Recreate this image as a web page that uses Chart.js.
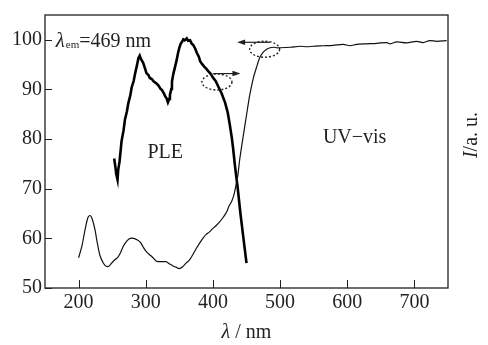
<!DOCTYPE html>
<html><head><meta charset="utf-8">
<script src="https://cdn.jsdelivr.net/npm/chart.js@4/dist/chart.umd.min.js"></script>
<style>html,body{margin:0;padding:0;background:#fff}#wrap{width:488px;height:345px}</style>
</head><body><div id="wrap"><canvas id="c" width="488" height="345"></canvas></div>
<script>
// UV-vis absorption (thin line)
const uvX = [200,205,210,214,217,220,224,228,232,237,241,245,249,254,258,262,267,272,277,282,287,292,296,300,305,310,316,322,330,335,340,345,350,355,360,365,370,375,380,385,390,395,400,405,410,415,420,424,428,431,434,437,440,445,450,455,460,465,470,475,480,485,490,495,500,515,530,540,549,564,579,594,604,614,629,644,659,664,674,688,703,713,723,733,748];
const uvY = [56.1,58.5,62,64.2,64.6,64,62,59,56.5,55,54.4,54.4,55,55.7,56.1,57,58.5,59.5,60,60,59.7,59.2,58.3,57.5,56.8,56.2,55.4,55.3,55.3,54.9,54.5,54.2,53.9,54.3,55,55.6,56.7,57.9,59,60,60.8,61.3,62,62.6,63.3,64.2,65.2,66.5,67.5,68.6,70.5,72.6,76,80.5,84.8,89,92.2,94.5,96.5,97.5,98.1,98.4,98.5,98.4,98.4,98.5,98.7,98.6,98.7,98.8,98.9,99.1,98.8,99.1,99.2,99.3,99.45,99.2,99.6,99.4,99.7,99.45,99.85,99.7,99.85];
// PLE excitation (thick noisy line)
const pleX = [253,255,256,257,258,259,261,264,267,269,272,274,277,279,282,284,287,289,291,293,296,299,301,304,306,309,312,316,319,322,324,327,329,331,333,335,336,338,339,341,343,346,348,350,352,354,356,358,361,363,366,368,371,374,376,379,381,384,387,390,393,397,400,404,408,413,418,422,425,428,430,433,437,441,445,450];
const pleY = [76.1,74.2,73,72.4,71.8,73.8,75.5,79.6,81.8,83.9,85.6,87.2,88.8,90.4,91.7,93.1,94.9,96.3,96.8,96.1,95.4,94.2,93.3,92.9,92.3,92.1,91.6,91.2,90.8,90.1,89.9,89.2,88.6,88.2,87.4,88.1,88.9,90.1,91.6,93.1,94.2,95.9,97.3,98.4,99.2,99.6,100.1,99.9,100.3,99.8,99.9,99.3,98.9,98.1,97.4,96.6,95.7,95.1,94.6,94.2,93.7,93.1,92.4,91.7,90.6,89.2,87.4,85.4,83,80.4,78.2,74.4,70,65,60.5,55];
const xTicks = [200,300,400,500,600,700];
const yTicks = [50,60,70,80,90,100];
const xRange = [150,750];
const yRange = [50,105];
const seriesNames = ['UV−vis','PLE'];
const emText = '=469 nm';

const SERIF = '"Liberation Serif","DejaVu Serif",serif';
const INK = '#231f20';
const FS = 20;

const overlay = {
  id:'overlay',
  afterDraw(chart){
    const {ctx, chartArea:a, scales:{x,y}} = chart;
    ctx.save();
    // frame
    ctx.strokeStyle = INK; ctx.lineWidth = 1.3;
    ctx.strokeRect(a.left, a.top, a.right-a.left, a.bottom-a.top);
    // inward ticks
    ctx.lineWidth = 1;
    xTicks.forEach(v=>{const px=Math.round(x.getPixelForValue(v))+0.5;ctx.beginPath();ctx.moveTo(px,a.bottom);ctx.lineTo(px,a.bottom-8);ctx.stroke();});
    yTicks.forEach(v=>{const py=Math.round(y.getPixelForValue(v))+0.5;ctx.beginPath();ctx.moveTo(a.left,py);ctx.lineTo(a.left+7,py);ctx.stroke();});
    // dashed ellipses
    ctx.setLineDash([2,2]); ctx.lineWidth=1.4;
    [[406,91.5],[477,98.1]].forEach(([vx,vy])=>{
      ctx.beginPath();ctx.ellipse(x.getPixelForValue(vx),y.getPixelForValue(vy),15,8,0,0,Math.PI*2);ctx.stroke();
    });
    ctx.setLineDash([]);
    // arrows
    function arrow(x1,x2,yy){
      const p1=x.getPixelForValue(x1),p2=x.getPixelForValue(x2),py=y.getPixelForValue(yy);
      const d=Math.sign(p2-p1);
      ctx.lineWidth=1.2;ctx.beginPath();ctx.moveTo(p1,py);ctx.lineTo(p2-d*6,py);ctx.stroke();
      ctx.fillStyle=INK;ctx.beginPath();ctx.moveTo(p2,py);ctx.lineTo(p2-d*8,py-2.8);ctx.lineTo(p2-d*8,py+2.8);ctx.closePath();ctx.fill();
    }
    arrow(400,441,93.2);
    arrow(485,436,99.5);
    // texts
    ctx.fillStyle=INK; ctx.textBaseline='alphabetic';
    let tx = x.getPixelForValue(166), ty = y.getPixelForValue(98.6);
    ctx.font = 'italic '+(FS+1)+'px '+SERIF; ctx.textAlign='left';
    ctx.fillText('λ',tx,ty); tx += ctx.measureText('λ').width+1;
    ctx.font = '11px '+SERIF; ctx.fillText('em',tx,ty+1); tx += ctx.measureText('em').width;
    ctx.font = FS+'px '+SERIF; ctx.fillText(emText,tx,ty);
    ctx.textAlign='center';
    ctx.fillText(seriesNames[1], x.getPixelForValue(329), y.getPixelForValue(76.2));
    ctx.fillText(seriesNames[0], x.getPixelForValue(611), y.getPixelForValue(79.3));
    // x title
    const cx=(a.left+a.right)/2, by=338;
    ctx.font='italic '+FS+'px '+SERIF; const w1=ctx.measureText('λ').width;
    ctx.font=FS+'px '+SERIF; const w2=ctx.measureText(' / nm').width;
    let sx=cx-(w1+w2)/2; ctx.textAlign='left';
    ctx.font='italic '+FS+'px '+SERIF; ctx.fillText('λ',sx,by);
    ctx.font=FS+'px '+SERIF; ctx.fillText(' / nm',sx+w1,by);
    // right y title rotated
    ctx.translate(477,135); ctx.rotate(-Math.PI/2);
    ctx.font='italic '+FS+'px '+SERIF; const r1=ctx.measureText('I').width;
    ctx.font=FS+'px '+SERIF; const r2=ctx.measureText('/a. u.').width;
    let rx=-(r1+r2)/2;
    ctx.font='italic '+FS+'px '+SERIF; ctx.fillText('I',rx,0);
    ctx.font=FS+'px '+SERIF; ctx.fillText('/a. u.',rx+r1,0);
    ctx.restore();
  }
};

new Chart(document.getElementById('c'),{
  type:'line',
  data:{datasets:[
    {label:seriesNames[0],data:uvX.map((v,i)=>({x:v,y:uvY[i]})),borderColor:'#111',borderWidth:1.2,pointRadius:0,tension:0.3,fill:false},
    {label:seriesNames[1],data:pleX.map((v,i)=>({x:v,y:pleY[i]})),borderColor:'#000',borderWidth:2.6,pointRadius:0,tension:0,fill:false}
  ]},
  options:{
    responsive:false,animation:false,
    layout:{padding:{left:0,right:40,top:8,bottom:0}},
    plugins:{legend:{display:false},tooltip:{enabled:false}},
    scales:{
      x:{type:'linear',min:xRange[0],max:xRange[1],
        afterBuildTicks:s=>{s.ticks=xTicks.map(v=>({value:v}));},
        afterFit:s=>{s.height=57;},
        grid:{display:false,drawTicks:false},border:{display:false},
        ticks:{font:{family:SERIF,size:FS},color:INK,padding:3,maxRotation:0,autoSkip:false}},
      y:{type:'linear',min:yRange[0],max:yRange[1],
        afterBuildTicks:s=>{s.ticks=yTicks.map(v=>({value:v}));},
        afterFit:s=>{s.width=45;},
        grid:{display:false,drawTicks:false},border:{display:false},
        ticks:{font:{family:SERIF,size:FS},color:INK,padding:3,autoSkip:false}}
    }
  },
  plugins:[overlay]
});
</script></body></html>
